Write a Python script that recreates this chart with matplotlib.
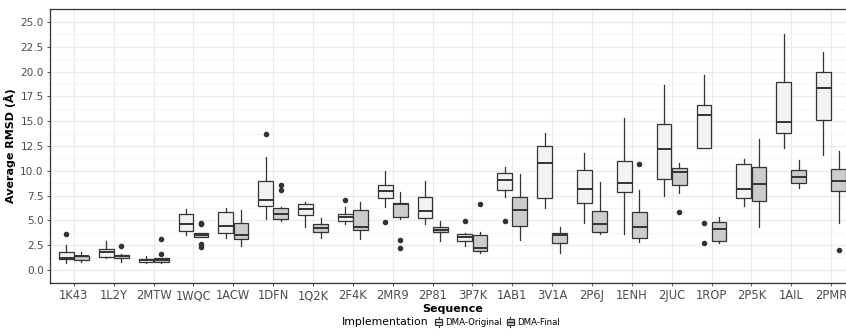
import matplotlib
matplotlib.use("Agg")
import matplotlib.pyplot as plt
from matplotlib.legend_handler import HandlerBase
from matplotlib.offsetbox import HPacker
from matplotlib.patches import Rectangle
from matplotlib.lines import Line2D

sequences = ["1K43", "1L2Y", "2MTW", "1WQC", "1ACW", "1DFN", "1Q2K", "2F4K", "2MR9", "2P81",
             "3P7K", "1AB1", "3V1A", "2P6J", "1ENH", "2JUC", "1ROP", "2P5K", "1AIL", "2PMR"]

# DMA-Original: whisker low, q1, median, q3, whisker high, outliers
orig_whislo = [0.67, 1.18, 0.67, 3.49, 3.19, 5.17, 4.37, 4.64, 6.32, 4.60,
               2.45, 7.33, 6.22, 4.70, 3.60, 7.46, 12.26, 6.42, 12.33, 11.59]
orig_q1 = [1.08, 1.34, 0.84, 3.93, 3.70, 6.45, 5.54, 4.94, 7.29, 5.21,
           2.92, 8.06, 7.29, 6.72, 7.83, 9.21, 12.26, 7.26, 13.78, 15.09]
orig_med = [1.18, 1.78, 0.97, 4.67, 4.47, 7.06, 6.15, 5.34, 7.93, 5.91,
            3.33, 9.11, 10.82, 8.17, 8.80, 12.20, 15.66, 8.13, 14.89, 18.35]
orig_q3 = [1.78, 2.08, 1.10, 5.61, 5.81, 8.94, 6.62, 5.68, 8.53, 7.33,
           3.63, 9.74, 12.50, 10.11, 11.02, 14.72, 16.63, 10.69, 18.92, 19.93]
orig_whishi = [2.52, 2.92, 1.41, 6.15, 6.28, 11.42, 6.85, 6.38, 9.98, 8.94,
               3.70, 10.42, 13.78, 11.83, 15.32, 18.65, 19.62, 11.16, 23.76, 22.01]
orig_out = [[3.66], [], [], [], [], [13.71], [], [7.06], [4.80], [],
            [4.94], [4.94], [], [], [], [], [4.77, 2.72], [], [], []]

# DMA-Final
final_whislo = [0.77, 0.84, 0.67, 3.29, 2.45, 4.94, 3.23, 3.16, 5.11, 2.96,
                1.68, 3.02, 1.68, 3.60, 2.86, 7.73, 2.69, 4.37, 8.30, 4.77]
final_q1 = [0.97, 1.18, 0.84, 3.29, 3.09, 5.11, 3.80, 4.00, 5.34, 3.80,
            1.95, 4.47, 2.76, 3.86, 3.19, 8.60, 2.96, 6.92, 8.74, 7.96]
final_med = [1.41, 1.38, 1.00, 3.53, 3.56, 5.61, 4.23, 4.37, 6.65, 4.07,
             2.18, 6.01, 3.53, 4.64, 4.33, 9.91, 4.10, 8.64, 9.34, 9.01]
final_q3 = [1.44, 1.48, 1.18, 3.76, 4.77, 6.28, 4.67, 6.01, 6.79, 4.37,
            3.53, 7.33, 3.70, 5.98, 5.85, 10.25, 4.80, 10.35, 10.05, 10.22]
final_whishi = [1.78, 1.60, 1.18, 3.76, 6.05, 6.32, 5.28, 6.85, 7.90, 4.94,
                3.80, 9.68, 4.30, 8.90, 8.06, 10.75, 5.38, 13.17, 11.06, 11.96]
final_out = [[], [2.42], [1.61, 3.16], [4.77, 4.64, 2.59, 2.28], [], [8.57, 8.06], [], [], [3.06, 2.22], [],
             [6.69], [], [], [], [10.69], [5.85], [], [], [], [2.05]]

groups = ["DMA-Original", "DMA-Final"]
fills = ["#F2F2F2", "#CCCCCC"]
EDGE = "#333333"


def make_stats(lo, q1, med, q3, hi, out):
    return [dict(whislo=a, q1=b, med=c, q3=d, whishi=e, fliers=f)
            for a, b, c, d, e, f in zip(lo, q1, med, q3, hi, out)]


class BoxKey(HandlerBase):
    # small boxplot glyph for the legend keys
    def __init__(self, color):
        super().__init__()
        self.color = color

    def create_artists(self, legend, orig_handle, xdescent, ydescent, width, height, fontsize, trans):
        cx = width / 2 - xdescent
        w = width * 0.8
        y0, y1 = -ydescent, height - ydescent
        box = Rectangle((cx - w / 2, y0 + height * 0.22), w, height * 0.56,
                        facecolor=self.color, edgecolor=EDGE, linewidth=0.8, transform=trans)
        top = Line2D([cx, cx], [y0 + height * 0.78, y1], color=EDGE, linewidth=0.8, transform=trans)
        bot = Line2D([cx, cx], [y0, y0 + height * 0.22], color=EDGE, linewidth=0.8, transform=trans)
        mid = Line2D([cx - w / 2, cx + w / 2], [y0 + height * 0.5] * 2, color=EDGE, linewidth=1.0, transform=trans)
        return [box, top, bot, mid]


fig = plt.figure(figsize=(8.46, 3.36), dpi=100)
ax = fig.add_axes([0.0591, 0.158, 0.9515, 0.8145])

xs = list(range(1, len(sequences) + 1))
offset = 0.19
width = 0.37
all_stats = [
    make_stats(orig_whislo, orig_q1, orig_med, orig_q3, orig_whishi, orig_out),
    make_stats(final_whislo, final_q1, final_med, final_q3, final_whishi, final_out),
]
for i, (stats, fc) in enumerate(zip(all_stats, fills)):
    pos = [x + (i * 2 - 1) * offset for x in xs]
    ax.bxp(stats, positions=pos, widths=width, patch_artist=True, showcaps=False,
           boxprops=dict(facecolor=fc, edgecolor=EDGE, linewidth=0.9),
           medianprops=dict(color=EDGE, linewidth=1.4),
           whiskerprops=dict(color=EDGE, linewidth=0.9),
           flierprops=dict(marker="o", markersize=3, markerfacecolor=EDGE,
                           markeredgecolor=EDGE, linestyle="none"),
           zorder=3)

ax.set_xlim(0.4, 20.6)
ax.set_ylim(-1.31, 26.28)
ax.set_xticks(xs)
ax.set_xticklabels(sequences)
yt = [0, 2.5, 5, 7.5, 10, 12.5, 15, 17.5, 20, 22.5, 25]
ax.set_yticks(yt)
ax.set_yticklabels([f"{v:.1f}" for v in yt])
ax.set_yticks([v + 1.25 for v in yt[:-1]] + [-1.25], minor=True)

ax.grid(True, which="major", color="#EBEBEB", linewidth=0.9, zorder=0)
ax.grid(True, which="minor", axis="y", color="#F2F2F2", linewidth=0.5, zorder=0)
ax.set_axisbelow(True)
ax.tick_params(axis="x", which="major", labelsize=8.3, colors="#333333", length=2.5, width=0.6, pad=2,
               labelcolor="#4D4D4D")
ax.tick_params(axis="y", which="major", labelsize=7.6, colors="#333333", length=2.5, width=0.6, pad=2,
               labelcolor="#4D4D4D")
ax.tick_params(which="minor", length=0)
for sp in ax.spines.values():
    sp.set_color("#333333")
    sp.set_linewidth(0.9)

ax.set_xlabel("Sequence", fontsize=8, fontweight="bold", labelpad=1)
ax.set_ylabel("Average RMSD (Å)", fontsize=8, fontweight="bold", labelpad=3)

handles = [Rectangle((0, 0), 1, 1) for _ in groups]
leg = fig.legend(handles, groups, loc="center", bbox_to_anchor=(0.533, 0.042), ncol=2,
                 title="Implementation", fontsize=6.2, title_fontsize=7.8, frameon=False,
                 handlelength=1.1, handleheight=1.5, handletextpad=0.25,
                 columnspacing=0.4, borderaxespad=0,
                 handler_map={handles[0]: BoxKey(fills[0]), handles[1]: BoxKey(fills[1])})
# put the title to the left of the entries, like ggplot's bottom legend
box = leg._legend_box
box.__class__ = HPacker
box.align = "center"
box.sep = 4

fig.savefig("out.png", dpi=100)
